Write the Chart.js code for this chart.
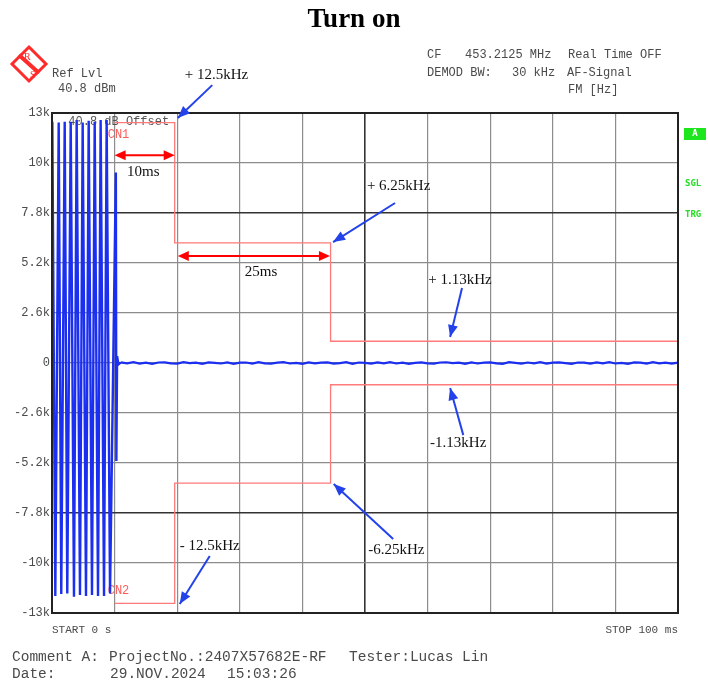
<!DOCTYPE html>
<html>
<head>
<meta charset="utf-8">
<script src="https://cdn.jsdelivr.net/npm/chart.js@4/dist/chart.umd.min.js"></script>
<style>
  body { margin: 0; background: #fff; }
  #wrap { position: relative; width: 708px; height: 681px; overflow: hidden; }
  #myChart { position: absolute; left: 0; top: 0; }
  .t { position: absolute; white-space: pre; font-family: "Liberation Mono", monospace; color: #4a4a4a; line-height: 1; }
  .hd { font-size: 12px; }
  .ft { font-size: 14.5px; }
  .sm { font-size: 11px; }
  .gr { font-family: "DejaVu Sans Mono", monospace; font-weight: bold; font-size: 9px; color: #22dd22; }
  #title { position: absolute; left: 0; top: 5px; width: 708px; text-align: center; font-family: "Liberation Serif", serif; font-weight: bold; font-size: 27px; line-height: 27px; color: #000; }
</style>
</head>
<body>
<div id="wrap">
  <canvas id="myChart" width="708" height="681"></canvas>
  <div id="title">Turn on</div>

  <svg style="position:absolute;left:0;top:0" width="60" height="100">
    <polygon points="29,47 46,64 29,81 12,64" fill="none" stroke="#ff2a2a" stroke-width="3"/>
    <line x1="19" y1="55" x2="39" y2="73" stroke="#ff2a2a" stroke-width="4"/>
    <text x="24" y="60" font-family="Liberation Serif" font-size="10" fill="#ff2a2a">R</text>
    <text x="30" y="78" font-family="Liberation Serif" font-size="10" fill="#ff2a2a">S</text>
  </svg>

  <div class="t hd" style="left:52px;top:68px">Ref Lvl</div>
  <div class="t hd" style="left:58px;top:83px">40.8 dBm</div>
  <div class="t hd" style="left:427px;top:49px">CF</div>
  <div class="t hd" style="left:465px;top:49px">453.2125 MHz</div>
  <div class="t hd" style="left:568px;top:49px">Real Time OFF</div>
  <div class="t hd" style="left:427px;top:67px">DEMOD BW:</div>
  <div class="t hd" style="left:512px;top:67px">30 kHz</div>
  <div class="t hd" style="left:567px;top:67px">AF-Signal</div>
  <div class="t hd" style="left:568px;top:84px">FM [Hz]</div>

  <div style="position:absolute;left:684px;top:128px;width:22px;height:12px;background:#1ee61e;"></div>
  <div class="t gr" style="left:684px;top:129px;width:22px;text-align:center;color:#fff">A</div>
  <div class="t gr" style="left:685px;top:179px">SGL</div>
  <div class="t gr" style="left:685px;top:210px">TRG</div>

  <div class="t sm" style="left:52px;top:625px">START 0 s</div>
  <div class="t sm" style="right:30px;top:625px">STOP 100 ms</div>

  <div class="t ft" style="left:12px;top:650px">Comment A:</div>
  <div class="t ft" style="left:109px;top:650px">ProjectNo.:2407X57682E-RF</div>
  <div class="t ft" style="left:349px;top:650px">Tester:Lucas Lin</div>
  <div class="t ft" style="left:12px;top:667px">Date:</div>
  <div class="t ft" style="left:110px;top:667px">29.NOV.2024</div>
  <div class="t ft" style="left:227px;top:667px">15:03:26</div>
</div>

<script>
// burst at power-on (ms / Hz), peaks and troughs
var burstMs = [0, 0.05, 0.53, 1.07, 1.48, 2.03, 2.44, 2.99, 3.51, 3.94, 4.47, 4.90, 5.43, 5.86, 6.39, 6.82, 7.35, 7.77, 8.31, 8.73, 9.27, 10.20, 10.28, 10.40, 10.60, 11];
var burstHz = [-1100, 12550, -12120, 12500, -12010, 12550, -11980, 12550, -12150, 12640, -12060, 12500, -12120, 12600, -12060, 12550, -12120, 12640, -12120, 12640, -11980, 9900, -5100, 350, -80, 30];

// settled trace, one value per ms from 11 ms to 100 ms
var settledStartMs = 11;
var settledHz = [30, -20, 40, -35, 15, -45, 25, 35, -15, -30, 45, -10, 20, -40, 30, 10, -25, 35, -45, 15,
                 25, -30, 40, -15, -35, 20, 45, -25, 10, -40, 30, -20, 15, 35, -30, -10, 40, -45, 25, 5,
                 -35, 30, -15, 45, -25, 20, -40, 10, 35, -20, -30, 25, 40, -10, 15, -45, 30, -25, 20, 35,
                 -15, -40, 45, 10, -30, 25, -20, 40, -35, 15, 30, -10, -45, 25, 20, -30, 35, -15, 40, -25,
                 10, -40, 30, 20, -35, 45, -20, 15, -30, 25];

// limit lines CN1 / CN2
var limitMs = [10, 19.6, 19.6, 44.5, 44.5, 100];
var upperHz = [12500, 12500, 6250, 6250, 1130, 1130];
var lowerHz = [-12500, -12500, -6250, -6250, -1130, -1130];

var yTickLabels = ['-13k', '-10k', '-7.8k', '-5.2k', '-2.6k', '0', '2.6k', '5.2k', '7.8k', '10k', '13k'];

// annotations
var blueArrows = [
    { from: [25.6, 14450], to: [20.1, 12740] },
    { from: [54.8, 8320], to: [44.9, 6290] },
    { from: [65.5, 3900], to: [63.6, 1350] },
    { from: [65.7, -3750], to: [63.6, -1300] },
    { from: [54.5, -9150], to: [45.0, -6290] },
    { from: [25.2, -10040], to: [20.4, -12530] }
];
var redArrows = [
    { from: [10, 10800], to: [19.6, 10800] },
    { from: [20.1, 5560], to: [44.4, 5560] }
];
var notes = [
    { text: '+ 12.5kHz', at: [21.2, 14976] },
    { text: '+ 6.25kHz', at: [50.3, 9204] },
    { text: '+ 1.13kHz', at: [60.1, 4316] },
    { text: '-1.13kHz', at: [60.4, -4160] },
    { text: '-6.25kHz', at: [50.5, -9724] },
    { text: '- 12.5kHz', at: [20.4, -9516] },
    { text: '10ms', at: [12.0, 9932] },
    { text: '25ms', at: [30.8, 4732] }
];

function pts(xs, ys) { return xs.map(function (x, i) { return { x: x, y: ys[i] }; }); }
var settled = settledHz.map(function (v, i) { return { x: settledStartMs + i, y: v }; });

function head(ctx, x1, y1, x2, y2, len, wid) {
    var a = Math.atan2(y2 - y1, x2 - x1);
    ctx.beginPath();
    ctx.moveTo(x2, y2);
    ctx.lineTo(x2 - len * Math.cos(a) + wid * Math.sin(a), y2 - len * Math.sin(a) - wid * Math.cos(a));
    ctx.lineTo(x2 - len * Math.cos(a) - wid * Math.sin(a), y2 - len * Math.sin(a) + wid * Math.cos(a));
    ctx.closePath();
    ctx.fill();
}

var marks = {
    id: 'marks',
    beforeDatasetsDraw: function (chart) {
        var ctx = chart.ctx, sx = chart.scales.x, sy = chart.scales.y;
        ctx.save();
        ctx.textBaseline = 'middle';
        ctx.font = '12px "Liberation Mono"';
        ctx.fillStyle = '#555';
        ctx.fillText('40.8 dB Offset', sx.getPixelForValue(2.6), sy.getPixelForValue(12530));
        ctx.fillStyle = '#ff5c5c';
        ctx.fillText('CN1', sx.getPixelForValue(8.9), sy.getPixelForValue(11850));
        ctx.fillText('CN2', sx.getPixelForValue(8.9), sy.getPixelForValue(-11850));
        ctx.restore();
    },
    afterDraw: function (chart) {
        var ctx = chart.ctx, sx = chart.scales.x, sy = chart.scales.y, a = chart.chartArea;
        ctx.save();
        ctx.strokeStyle = '#222';
        ctx.lineWidth = 2;
        ctx.strokeRect(a.left, a.top, a.right - a.left, a.bottom - a.top);

        ctx.strokeStyle = '#ff0000';
        ctx.fillStyle = '#ff0000';
        ctx.lineWidth = 2;
        redArrows.forEach(function (r) {
            var x1 = sx.getPixelForValue(r.from[0]), y1 = sy.getPixelForValue(r.from[1]);
            var x2 = sx.getPixelForValue(r.to[0]), y2 = sy.getPixelForValue(r.to[1]);
            ctx.beginPath();
            ctx.moveTo(x1 + 8, y1);
            ctx.lineTo(x2 - 8, y2);
            ctx.stroke();
            head(ctx, x2, y2, x1, y1, 11, 5);
            head(ctx, x1, y1, x2, y2, 11, 5);
        });

        ctx.strokeStyle = '#2342ea';
        ctx.fillStyle = '#2342ea';
        ctx.lineWidth = 2;
        blueArrows.forEach(function (b) {
            var x1 = sx.getPixelForValue(b.from[0]), y1 = sy.getPixelForValue(b.from[1]);
            var x2 = sx.getPixelForValue(b.to[0]), y2 = sy.getPixelForValue(b.to[1]);
            ctx.beginPath();
            ctx.moveTo(x1, y1);
            ctx.lineTo(x2, y2);
            ctx.stroke();
            head(ctx, x1, y1, x2, y2, 12, 5);
        });

        ctx.fillStyle = '#111';
        ctx.font = '15px "Liberation Serif"';
        ctx.textBaseline = 'middle';
        notes.forEach(function (n) {
            ctx.fillText(n.text, sx.getPixelForValue(n.at[0]), sy.getPixelForValue(n.at[1]));
        });
        ctx.restore();
    }
};

function near(v, list) {
    return list.some(function (k) { return Math.abs(v - k) < 1; });
}

var ctx = document.getElementById('myChart').getContext('2d');
var myChart = new Chart(ctx, {
    type: 'line',
    data: {
        datasets: [{
            label: 'CN1',
            data: pts(limitMs, upperHz),
            borderColor: '#ff7a7a',
            borderWidth: 1.3,
            pointRadius: 0
        }, {
            label: 'CN2',
            data: pts(limitMs, lowerHz),
            borderColor: '#ff7a7a',
            borderWidth: 1.3,
            pointRadius: 0
        }, {
            label: 'FM burst',
            data: pts(burstMs, burstHz),
            borderColor: '#1b2ff0',
            borderWidth: 2.4,
            pointRadius: 0
        }, {
            label: 'FM',
            data: settled,
            borderColor: '#1b2ff0',
            borderWidth: 2.2,
            pointRadius: 0
        }]
    },
    options: {
        responsive: false,
        animation: false,
        layout: { padding: { top: 113, right: 30, bottom: 68, left: 0 } },
        plugins: { legend: { display: false }, tooltip: { enabled: false } },
        scales: {
            x: {
                type: 'linear',
                min: 0,
                max: 100,
                ticks: { display: false, stepSize: 10 },
                border: { display: false },
                grid: {
                    drawTicks: false,
                    color: function (c) { return near(c.tick.value, [50]) ? '#333' : '#8c8c8c'; },
                    lineWidth: function (c) { return near(c.tick.value, [50]) ? 1.6 : 1.2; }
                },
                afterFit: function (s) { s.height = 0; }
            },
            y: {
                min: -13000,
                max: 13000,
                ticks: {
                    stepSize: 2600,
                    padding: 2,
                    color: '#4a4a4a',
                    font: { family: 'Liberation Mono', size: 12 },
                    callback: function (v, i) { return yTickLabels[i]; }
                },
                border: { display: false },
                grid: {
                    drawTicks: false,
                    color: function (c) { return near(c.tick.value, [7800, -7800]) ? '#333' : '#8c8c8c'; },
                    lineWidth: function (c) { return near(c.tick.value, [7800, -7800]) ? 1.6 : 1.2; }
                },
                afterFit: function (s) { s.width = 52; }
            }
        }
    },
    plugins: [marks]
});
</script>
</body>
</html>
